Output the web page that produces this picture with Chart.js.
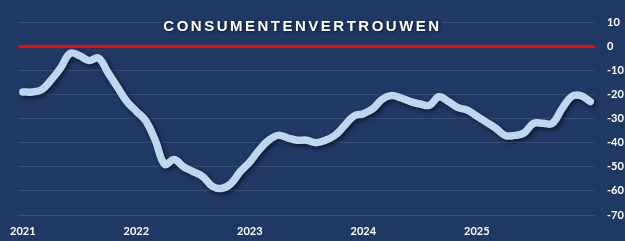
<!DOCTYPE html>
<html>
<head>
<meta charset="utf-8">
<script src="https://cdn.jsdelivr.net/npm/chart.js@4.4.1/dist/chart.umd.min.js"></script>
<style>
  html, body { margin:0; padding:0; background:#1f3864; overflow:hidden; }
  #wrap { width:625px; height:241px; position:relative; }
</style>
</head>
<body>
<div id="wrap"><canvas id="chart"></canvas></div>
<script>
const TITLE  = "CONSUMENTENVERTROUWEN";
const years  = ["2021","2022","2023","2024","2025","2026"];
const months = ["jan","feb","mrt","apr","mei","jun","jul","aug","sep","okt","nov","dec"];
const xTicks = ["2021","2022","2023","2024","2025"];

// consumentenvertrouwen per maand, jan 2021 .. jan 2026
const confidence = [
  -19, -19, -18, -14,  -9,  -3,  -4,  -6,  -5, -11, -17, -23,
  -27, -31, -39, -49, -47, -50, -52, -54, -58, -59, -57, -52,
  -48, -43, -39, -37, -38, -39, -39, -40, -39, -37, -33, -29,
  -28, -26, -22, -20.5, -21.5, -23, -24, -24.5, -21, -23, -25.5, -26.5,
  -29, -31.5, -34, -37, -37, -36, -32, -32, -32, -26, -21, -20.5,
  -23
];

const yTicks = [10, 0, -10, -20, -30, -40, -50, -60, -70];

const BG    = "#1f3864";
const LINE  = "#bdd7ee";
const RED   = "#ff0000";
const GRID  = "rgba(255,255,255,0.11)";
const FONT  = "Lato, 'Liberation Sans', Arial, sans-serif";

(() => {
  "use strict";

  const labels = [];
  years.forEach(y => months.forEach(m => {
    if (labels.length < confidence.length) labels.push(`${m} ${y}`);
  }));

  const lineShadow = {
    id: "lineShadow",
    beforeDatasetDraw(chart){
      const ctx = chart.ctx;
      ctx.save();
      ctx.shadowColor = "rgba(0,0,0,0.55)";
      ctx.shadowBlur = 4;
      ctx.shadowOffsetX = 2;
      ctx.shadowOffsetY = 2;
    },
    afterDatasetDraw(chart){
      chart.ctx.restore();
    }
  };

  const titleBox = {
    id: "titleBox",
    afterDraw(chart){
      const ctx = chart.ctx;
      ctx.save();
      ctx.fillStyle = BG;
      ctx.fillRect(161, 14, 281, 22);
      ctx.font = "bold 15px 'Liberation Sans', Arial, sans-serif";
      ctx.letterSpacing = "2.5px";
      ctx.textAlign = "center";
      ctx.textBaseline = "middle";
      ctx.shadowColor = "rgba(0,0,0,0.6)";
      ctx.shadowBlur = 3;
      ctx.shadowOffsetX = 1;
      ctx.shadowOffsetY = 1;
      ctx.fillStyle = "#ffffff";
      ctx.fillText(TITLE, 302.5, 26.5);
      ctx.restore();
    }
  };

  new Chart(document.getElementById("chart").getContext("2d"), {
    type: "line",
    data: {
      labels,
      datasets: [{
        data: confidence,
        borderColor: LINE,
        borderWidth: 7.5,
        borderCapStyle: "round",
        borderJoinStyle: "round",
        tension: 0.4,
        pointRadius: 0,
        fill: false
      }]
    },
    options: {
      responsive: true,
      maintainAspectRatio: false,
      devicePixelRatio: 1,
      animation: false,
      layout: { padding: { left: 14, top: 22, right: 0, bottom: 0 } },
      plugins: { legend: { display: false }, tooltip: { enabled: false }, title: { display: false } },
      scales: {
        x: {
          offset: true,
          grid: { display: false, drawTicks: false },
          border: { display: false },
          ticks: {
            autoSkip: false,
            maxRotation: 0,
            padding: 10,
            color: "#ffffff",
            font: { family: FONT, size: 11, weight: "bold" },
            callback: (v, i) => i % 12 === 0 && xTicks[i / 12] ? xTicks[i / 12] : null
          },
          afterFit: s => { s.height = 26; }
        },
        y: {
          position: "right",
          min: yTicks[yTicks.length - 1],
          max: yTicks[0],
          afterBuildTicks: s => { s.ticks = yTicks.map(v => ({ value: v })); },
          grid: {
            drawTicks: false,
            color: c => c.tick && c.tick.value === 0 ? RED : GRID,
            lineWidth: c => c.tick && c.tick.value === 0 ? 3 : 1
          },
          border: { display: false },
          ticks: {
            padding: 12,
            color: "#ffffff",
            font: { family: FONT, size: 11, weight: "bold" }
          },
          afterFit: s => { s.width = 30; }
        }
      }
    },
    plugins: [lineShadow, titleBox]
  });
})();
</script>
</body>
</html>
